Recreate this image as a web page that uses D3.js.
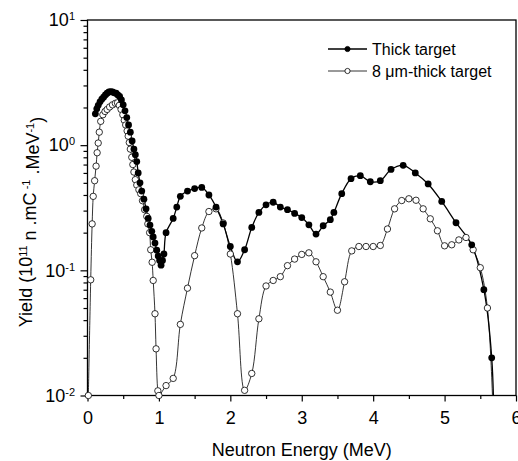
<!DOCTYPE html>
<html>
<head>
<meta charset="utf-8">
<script src="https://cdn.jsdelivr.net/npm/d3@7"></script>
<style>
    body { margin: 0; background: #fff; }
    svg { font-family: "Liberation Sans", Arial, sans-serif; }
</style>
</head>
<body>
<div id="chart"></div>
<script>
// Thick target (filled circles)
const thickEnergy = [0.11, 0.13, 0.15, 0.175, 0.2, 0.225, 0.25, 0.275, 0.3, 0.325, 0.35, 0.375, 0.4, 0.425, 0.45, 0.475,
    0.5, 0.525, 0.55, 0.575, 0.6, 0.625, 0.65, 0.67, 0.69, 0.71, 0.735, 0.76, 0.79, 0.82, 0.85, 0.875, 0.9, 0.92,
    0.945, 0.97, 0.99, 1.01, 1.03, 1.05, 1.07, 1.1, 1.2, 1.25, 1.3, 1.4, 1.5, 1.6, 1.7, 1.8, 1.9, 2.0, 2.1, 2.2,
    2.3, 2.4, 2.5, 2.6, 2.7, 2.8, 2.9, 3.0, 3.1, 3.2, 3.3, 3.4, 3.45, 3.56, 3.69, 3.82, 3.96, 4.1, 4.25, 4.42,
    4.59, 4.77, 4.96, 5.16, 5.38, 5.55, 5.66];
const thickYield = [1.78, 1.95, 2.08, 2.22, 2.33, 2.42, 2.52, 2.6, 2.66, 2.68, 2.66, 2.62, 2.6, 2.52, 2.45, 2.3,
    2.1, 1.88, 1.66, 1.45, 1.27, 1.08, 0.93, 0.84, 0.74, 0.6, 0.5, 0.43, 0.37, 0.31, 0.26, 0.23, 0.205, 0.185,
    0.165, 0.145, 0.13, 0.12, 0.11, 0.12, 0.135, 0.2, 0.26, 0.32, 0.39, 0.43, 0.45, 0.46, 0.4, 0.32, 0.235, 0.155,
    0.117, 0.146, 0.22, 0.29, 0.334, 0.35, 0.32, 0.305, 0.285, 0.264, 0.231, 0.195, 0.227, 0.254, 0.29, 0.41,
    0.54, 0.57, 0.51, 0.52, 0.64, 0.69, 0.6, 0.49, 0.355, 0.24, 0.16, 0.07, 0.02];

// 8 um-thick target (open circles)
const thinEnergy = [0.012, 0.045, 0.065, 0.08, 0.1, 0.12, 0.135, 0.15, 0.165, 0.185, 0.215, 0.245, 0.275, 0.31,
    0.35, 0.39, 0.42, 0.445, 0.47, 0.495, 0.515, 0.535, 0.555, 0.57, 0.585, 0.6, 0.62, 0.635, 0.65, 0.67, 0.69,
    0.72, 0.745, 0.77, 0.8, 0.83, 0.845, 0.87, 0.885, 0.905, 0.92, 0.945, 0.96, 0.985, 1.0, 1.1, 1.2, 1.3, 1.4,
    1.5, 1.6, 1.7, 1.8, 1.9, 2.0, 2.1, 2.2, 2.3, 2.4, 2.5, 2.6, 2.7, 2.8, 2.9, 3.0, 3.1, 3.2, 3.3, 3.4, 3.5, 3.6,
    3.7, 3.8, 3.9, 4.0, 4.1, 4.2, 4.3, 4.4, 4.5, 4.6, 4.7, 4.8, 4.9, 5.0, 5.1, 5.2, 5.3, 5.4, 5.5, 5.6];
const thinYield = [0.01, 0.084, 0.235, 0.39, 0.52, 0.68, 0.87, 1.04, 1.27, 1.55, 1.75, 1.86, 1.93, 2.02, 2.1,
    2.16, 2.18, 2.08, 1.93, 1.75, 1.58, 1.45, 1.3, 1.18, 1.05, 0.93, 0.8, 0.7, 0.61, 0.53, 0.48, 0.44, 0.41,
    0.36, 0.305, 0.27, 0.235, 0.2, 0.146, 0.116, 0.083, 0.045, 0.0236, 0.0109, 0.01, 0.012, 0.0137, 0.037, 0.072,
    0.131, 0.218, 0.295, 0.31, 0.239, 0.135, 0.045, 0.011, 0.015, 0.041, 0.075, 0.083, 0.089, 0.109, 0.123,
    0.134, 0.138, 0.117, 0.089, 0.067, 0.048, 0.081, 0.143, 0.155, 0.155, 0.155, 0.158, 0.214, 0.31, 0.361,
    0.373, 0.363, 0.31, 0.258, 0.207, 0.157, 0.16, 0.175, 0.183, 0.146, 0.105, 0.05];

// both fitted curves run on below the axis after the last point
const curveEnd = [5.695, 0.004];

const xTicks = [0, 1, 2, 3, 4, 5, 6];
const xMinorTicks = [0.5, 1.5, 2.5, 3.5, 4.5, 5.5];
const yTicks = [0.01, 0.1, 1, 10];
const seriesNames = ['Thick target', '8 \u03bcm-thick target'];

const W = 518, H = 461;
const margin = { top: 20, right: 2, bottom: 65.5, left: 87.5 };
const width = W - margin.left - margin.right;
const height = H - margin.top - margin.bottom;

const svg = d3.select('#chart').append('svg')
    .attr('width', W)
    .attr('height', H);

const g = svg.append('g')
    .attr('transform', `translate(${margin.left},${margin.top})`);

const x = d3.scaleLinear().domain([0, 6]).range([0, width]);
const y = d3.scaleLog().domain([0.01, 10]).range([height, 0]);

svg.append('defs').append('clipPath').attr('id', 'plot-clip')
    .append('rect').attr('width', width).attr('height', height);

// Axes
const xAxis = g.append('g')
    .attr('transform', `translate(0,${height})`)
    .call(d3.axisBottom(x).tickValues(xTicks).tickSize(6).tickPadding(10).tickFormat(d3.format('d')));
g.append('g')
    .attr('transform', `translate(0,${height})`)
    .call(d3.axisBottom(x).tickValues(xMinorTicks).tickSize(3.5).tickFormat(''));

const yAxis = g.append('g')
    .call(d3.axisLeft(y).tickValues(yTicks).tickSize(7).tickPadding(5.5));
const yMinor = [];
[0.01, 0.1, 1].forEach(dec => { for (let k = 2; k <= 9; k++) yMinor.push(dec * k); });
g.append('g')
    .call(d3.axisLeft(y).tickValues(yMinor).tickSize(4).tickFormat(''));

g.selectAll('.domain').remove();
g.selectAll('.tick line').attr('stroke', '#000').attr('stroke-width', 1.2);
g.selectAll('.tick text').attr('fill', '#000').style('font-size', '18px').style('font-family', 'inherit');

yAxis.selectAll('.tick text').each(function(d) {
    const t = d3.select(this);
    t.text('10');
    t.append('tspan')
        .attr('dy', '-0.55em')
        .style('font-size', '11px')
        .text(Math.round(Math.log10(d)));
});

// Frame
g.append('rect')
    .attr('width', width)
    .attr('height', height)
    .attr('fill', 'none')
    .attr('stroke', '#000')
    .attr('stroke-width', 1.3);

// Series
const thick = thickEnergy.map((e, i) => [e, thickYield[i]]);
const thin = thinEnergy.map((e, i) => [e, thinYield[i]]);

const line = d3.line()
    .x(d => x(d[0]))
    .y(d => y(d[1]))
    .curve(d3.curveCatmullRom.alpha(0.5));

const lines = g.append('g').attr('clip-path', 'url(#plot-clip)');
lines.append('path')
    .datum(thin.concat([curveEnd]))
    .attr('d', line)
    .attr('fill', 'none')
    .attr('stroke', '#000')
    .attr('stroke-width', 0.8);
lines.append('path')
    .datum(thick.concat([curveEnd]))
    .attr('d', line)
    .attr('fill', 'none')
    .attr('stroke', '#000')
    .attr('stroke-width', 1.3);

g.selectAll('.thin-pt')
    .data(thin)
    .enter()
    .append('circle')
    .attr('class', 'thin-pt')
    .attr('cx', d => x(d[0]))
    .attr('cy', d => y(d[1]))
    .attr('r', 3.2)
    .attr('fill', '#fff')
    .attr('stroke', '#000')
    .attr('stroke-width', 0.8);

g.selectAll('.thick-pt')
    .data(thick)
    .enter()
    .append('circle')
    .attr('class', 'thick-pt')
    .attr('cx', d => x(d[0]))
    .attr('cy', d => y(d[1]))
    .attr('r', 3.4)
    .attr('fill', '#000');

// Legend
const legend = svg.append('g').attr('transform', 'translate(328,49)');
seriesNames.forEach((name, i) => {
    const row = legend.append('g').attr('transform', `translate(0,${i * 22})`);
    row.append('line')
        .attr('x1', 0).attr('x2', 39)
        .attr('stroke', '#000')
        .attr('stroke-width', i === 0 ? 1.3 : 0.8);
    row.append('circle')
        .attr('cx', 19.5)
        .attr('r', 2.6)
        .attr('fill', i === 0 ? '#000' : '#fff')
        .attr('stroke', '#000')
        .attr('stroke-width', 0.8);
    row.append('text')
        .attr('x', 44)
        .attr('y', 5.8)
        .style('font-size', '16px')
        .text(name);
});

// Axis titles
svg.append('text')
    .attr('x', margin.left + width / 2)
    .attr('y', 456)
    .attr('text-anchor', 'middle')
    .style('font-size', '18px')
    .text('Neutron Energy (MeV)');

const yTitle = svg.append('text')
    .attr('transform', 'translate(32,222) rotate(-90)')
    .attr('text-anchor', 'middle')
    .style('font-size', '18px');
yTitle.append('tspan').text('Yield (10');
yTitle.append('tspan').attr('dy', '-0.5em').style('font-size', '11px').text('11');
yTitle.append('tspan').attr('dy', '0.5em').text(' n .mC');
yTitle.append('tspan').attr('dy', '-0.5em').style('font-size', '11px').text(' -1');
yTitle.append('tspan').attr('dy', '0.5em').text(' .MeV');
yTitle.append('tspan').attr('dy', '-0.5em').style('font-size', '11px').text('-1');
yTitle.append('tspan').attr('dy', '0.5em').text(')');
</script>
</body>
</html>
